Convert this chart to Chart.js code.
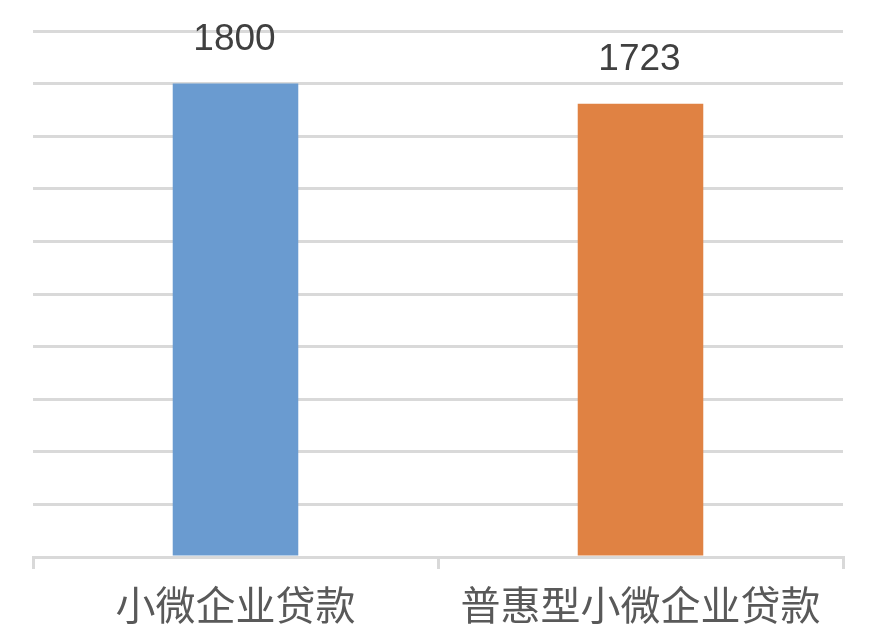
<!DOCTYPE html>
<html>
<head>
<meta charset="utf-8">
<script src="https://cdn.jsdelivr.net/npm/chart.js@4/dist/chart.umd.min.js"></script>
<style>
  html, body { margin: 0; padding: 0; background: #fff; }
  #wrap { width: 874px; height: 638px; }
</style>
</head>
<body>
<div id="wrap"><canvas id="loanChart" width="874" height="638"></canvas></div>
<script>
// chart data
const categories = ["小微企业贷款", "普惠型小微企业贷款"];
const loanValues = [1800, 1723];
const barColors = ["#6a9bd0", "#e08243"];
const yTicks = { min: 0, max: 2000, step: 200 };

// draws the value above each bar
const valueLabels = {
    id: "valueLabels",
    afterDatasetsDraw(chart) {
        const ctx = chart.ctx;
        const meta = chart.getDatasetMeta(0);
        ctx.save();
        ctx.font = "37px 'Liberation Sans', Arial, sans-serif";
        ctx.fillStyle = "#404040";
        ctx.textAlign = "center";
        ctx.textBaseline = "alphabetic";
        meta.data.forEach(function (bar, i) {
            ctx.fillText(String(loanValues[i]), bar.x - 1, bar.y - 34);
        });
        ctx.restore();
    }
};

new Chart(document.getElementById("loanChart").getContext("2d"), {
    type: "bar",
    data: {
        labels: categories,
        datasets: [{
            data: loanValues,
            backgroundColor: barColors,
            barPercentage: 0.62,
            categoryPercentage: 0.5
        }]
    },
    options: {
        responsive: false,
        animation: false,
        layout: { padding: { top: 31, right: 31, left: 0, bottom: 0 } },
        plugins: {
            legend: { display: false },
            tooltip: { enabled: false }
        },
        scales: {
            x: {
                afterFit: function (scale) { scale.height = 81; },
                grid: {
                    drawOnChartArea: false,
                    tickLength: 12,
                    color: "#d9d9d9",
                    lineWidth: 3
                },
                border: { color: "#d9d9d9", width: 3 },
                ticks: {
                    color: "#595959",
                    padding: 12,
                    font: { family: "'Noto Sans CJK SC', sans-serif", size: 40 }
                }
            },
            y: {
                min: yTicks.min,
                max: yTicks.max,
                afterFit: function (scale) { scale.width = 33; },
                ticks: { display: false, stepSize: yTicks.step },
                grid: { color: "#d9d9d9", lineWidth: 3, drawTicks: false },
                border: { display: false }
            }
        }
    },
    plugins: [valueLabels]
});
</script>
</body>
</html>
